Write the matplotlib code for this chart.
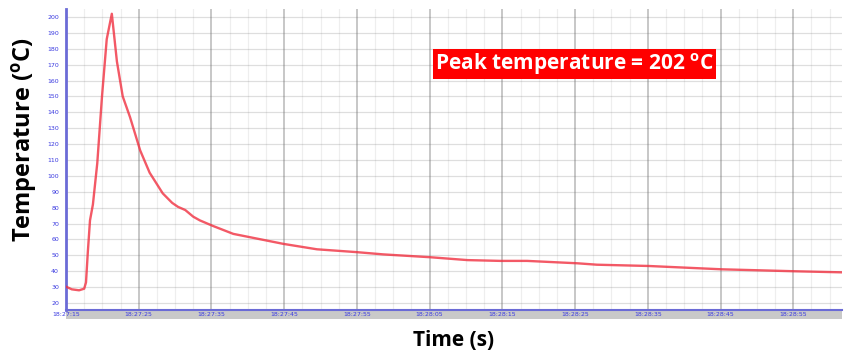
import matplotlib
matplotlib.use("Agg")
import matplotlib.pyplot as plt
from matplotlib.patches import Rectangle

# Thermocouple trace: seconds after 18:27:15 and temperature in degC
time_s = [0.0, 0.8, 1.8, 2.5, 2.75, 3.0, 3.3, 3.7, 4.3, 4.95, 5.6, 6.3,
          7.0, 7.8, 8.8, 10.2, 11.5, 13.3, 14.6, 15.4, 16.4, 17.5, 18.4,
          20.2, 23.0, 27.6, 29.9, 34.5, 40.0, 43.6, 50.1, 55.2, 59.7, 63.4,
          67.5, 70.3, 73.0, 80.1, 85.4, 90.2, 100.0, 106.7]
temp_c = [30.3, 28.6, 28.0, 29.0, 33.0, 52.0, 72.0, 82.0, 108.0, 150.0, 186.0, 202.0,
          172.0, 150.0, 137.0, 116.0, 102.0, 89.0, 83.0, 80.5, 78.5, 74.3, 72.0,
          68.5, 63.5, 59.3, 57.2, 53.8, 52.0, 50.6, 48.8, 47.0, 46.5, 46.5,
          45.6, 45.0, 44.1, 43.3, 42.2, 41.2, 40.0, 39.3]

xtick_pos = [0, 10, 20, 30, 40, 50, 60, 70, 80, 90, 100]
xtick_labels = ["18:27:15", "18:27:25", "18:27:35", "18:27:45", "18:27:55",
                "18:28:05", "18:28:15", "18:28:25", "18:28:35", "18:28:45",
                "18:28:55"]
ytick_vals = list(range(20, 201, 10))
peak_temp = max(temp_c)

AXIS_BLUE = "#6b6bd6"
LABEL_BLUE = "#3a3ae0"
FONT = ["Open Sans", "DejaVu Sans"]

fig = plt.figure(figsize=(8.44, 3.63), dpi=100)
ax = fig.add_axes([66 / 844, 53 / 363, 776 / 844, 301 / 363])

ax.set_xlim(0, 106.7)
ax.set_ylim(15.6, 205.0)

# grid: grey horizontals, faint minor verticals, darker major verticals
for v in ytick_vals:
    ax.axhline(v, color="#808080", alpha=0.26, lw=0.9, zorder=1)
for i in range(0, 43):
    xv = i * 2.5
    if xv > 106.7:
        break
    if i % 4 == 0:
        ax.axvline(xv, color="#707070", alpha=0.5, lw=1.1, zorder=1)
    else:
        ax.axvline(xv, color="#808080", alpha=0.13, lw=0.9, zorder=1)

ax.plot(time_s, temp_c, color="#f03040", lw=1.7, alpha=0.8, zorder=3,
        solid_joinstyle="round")

ax.set_yticks(ytick_vals)
ax.set_yticklabels([str(v) for v in ytick_vals])
ax.set_xticks(xtick_pos)
ax.set_xticklabels(xtick_labels)
ax.tick_params(axis="y", length=0, pad=5, labelsize=4.5, labelcolor=LABEL_BLUE)
ax.tick_params(axis="x", length=0, pad=1.8, labelsize=4.5, labelcolor=LABEL_BLUE)

for side in ("top", "right"):
    ax.spines[side].set_visible(False)
ax.spines["left"].set_color(AXIS_BLUE)
ax.spines["left"].set_linewidth(2.0)
ax.spines["bottom"].set_color(AXIS_BLUE)
ax.spines["bottom"].set_linewidth(1.5)

# grey strip that holds the time labels
ax.add_patch(Rectangle((0, -0.03), 1.0, 0.03, transform=ax.transAxes,
                       facecolor="#c9c9c9", edgecolor="none", clip_on=False,
                       zorder=0))

ax.set_ylabel(r"Temperature ($\mathregular{^o}$C)", fontsize=17,
              fontweight="bold", family=FONT)
ax.yaxis.set_label_coords(-0.033, 0.565)
ax.set_xlabel("Time (s)", fontsize=15, fontweight="bold", family=FONT,
              labelpad=9)

ax.text(0.4755, 0.816, r"Peak temperature = %d $\mathregular{^o}$C" % peak_temp,
        transform=ax.transAxes, fontsize=15, fontweight="bold", color="white",
        family=FONT, ha="left", va="center", zorder=5,
        bbox=dict(boxstyle="square,pad=0.1", facecolor="#ff0000",
                  edgecolor="none"))

fig.savefig("out.png", dpi=100)
